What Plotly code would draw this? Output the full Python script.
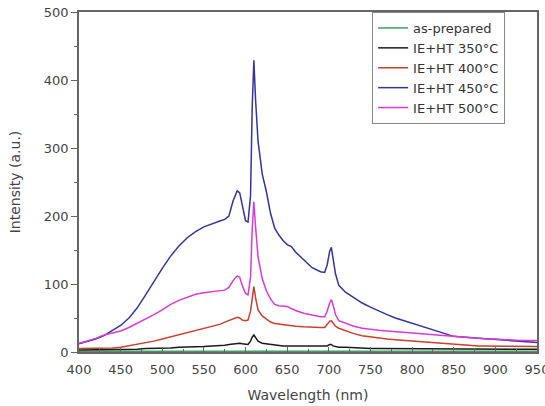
import plotly.graph_objects as go

wavelength = [400, 410, 420, 430, 440, 450, 460, 470, 480, 490,
              500, 510, 520, 530, 540, 550, 560, 570, 575, 580,
              585, 590, 593, 596, 600, 603, 606, 608, 610, 612,
              615, 620, 625, 630, 635, 640, 645, 650, 655, 660,
              670, 680, 690, 695, 698, 701, 703, 705, 708, 712,
              720, 730, 740, 750, 760, 770, 780, 790, 800, 810,
              820, 830, 840, 850, 860, 870, 880, 890, 900, 910,
              920, 930, 940, 950]

as_prepared = [1, 1, 1, 1, 1, 1, 1, 1, 1, 1,
               1, 1, 1, 1, 1, 1, 1, 1, 1, 1,
               1, 1, 1, 1, 1, 1, 1, 1, 2, 1,
               1, 1, 1, 1, 1, 1, 1, 1, 1, 1,
               1, 1, 1, 1, 1, 1, 1, 1, 1, 1,
               1, 1, 1, 1, 1, 1, 1, 1, 1, 1,
               1, 1, 1, 1, 1, 1, 1, 1, 1, 1,
               1, 1, 1, 1]

ht350 = [3, 3, 3, 3, 3, 3, 4, 4, 5, 5,
         6, 6, 7, 7, 8, 8, 9, 9, 10, 11,
         12, 13, 13, 12, 11, 11, 16, 22, 25, 21,
         16, 13, 12, 11, 10, 10, 9, 9, 9, 8,
         8, 8, 8, 8, 9, 11, 11, 9, 8, 7,
         7, 6, 6, 5, 5, 5, 5, 5, 5, 4,
         4, 4, 4, 4, 4, 4, 4, 4, 4, 4,
         4, 4, 4, 4]

ht400 = [5, 5, 5, 5, 6, 7, 9, 11, 13, 16,
         19, 22, 25, 29, 32, 35, 38, 41, 44, 46,
         49, 51, 50, 47, 46, 47, 60, 80, 96, 80,
         62, 53, 48, 44, 42, 41, 40, 40, 39, 38,
         37, 36, 36, 36, 40, 45, 46, 42, 38, 35,
         31, 27, 24, 22, 20, 19, 18, 17, 16, 15,
         14, 13, 12, 11, 10, 10, 9, 9, 9, 8,
         8, 8, 8, 8]

ht450 = [12, 15, 19, 24, 31, 39, 50, 65, 84, 104,
         123, 141, 156, 168, 177, 184, 189, 193, 195, 200,
         222, 237, 234, 215, 193, 191, 230, 360, 429, 372,
         310, 262, 236, 204, 182, 172, 164, 158, 155, 147,
         135, 124, 118, 117, 128, 148, 154, 140, 115, 98,
         88, 80, 72, 66, 60, 55, 50, 46, 43, 39,
         35, 31, 27, 23, 22, 21, 20, 19, 18, 17,
         16, 15, 15, 14]

ht500 = [13, 16, 20, 25, 28, 31, 36, 42, 48, 55,
         62, 70, 76, 81, 85, 87, 89, 90, 91, 95,
         105, 112, 110, 98, 86, 84, 110, 180, 221, 185,
         140, 108, 90, 78, 70, 68, 67, 67, 64, 61,
         57, 54, 52, 52, 60, 72, 77, 70, 55, 46,
         42, 38, 35, 33, 32, 31, 30, 29, 28, 27,
         25, 24, 23, 22, 21, 20, 20, 19, 19, 18,
         18, 17, 17, 17]

x_ticks = [400, 450, 500, 550, 600, 650, 700, 750, 800, 850, 900, 950]
y_ticks = [0, 100, 200, 300, 400, 500]

series = [
    ("as-prepared", as_prepared, "#3f9e62"),
    ("IE+HT 350°C", ht350, "#1a1a1a"),
    ("IE+HT 400°C", ht400, "#c8402e"),
    ("IE+HT 450°C", ht450, "#34349c"),
    ("IE+HT 500°C", ht500, "#d83ad8"),
]

fig = go.Figure()
for name, vals, color in series:
    assert len(vals) == len(wavelength), name
    fig.add_trace(go.Scatter(x=wavelength, y=vals, mode="lines", name=name,
                             line=dict(color=color, width=1.5)))

axis_color = "#666666"
font_family = "DejaVu Sans, Arial, sans-serif"

fig.update_layout(
    width=545, height=406,
    margin=dict(l=79, r=8, t=12, b=54, autoexpand=False),
    paper_bgcolor="white", plot_bgcolor="white",
    font=dict(family=font_family, color="#444444", size=12),
    showlegend=True,
    legend=dict(x=0.64, y=1.0, xanchor="left", yanchor="top",
                bordercolor="#888888", borderwidth=1, bgcolor="white",
                font=dict(size=13, color="#333333"),
                itemwidth=30, tracegroupgap=0),
    xaxis=dict(range=[400, 950], tickmode="array", tickvals=x_ticks,
               ticktext=[str(v) for v in x_ticks],
               ticklabeloverflow="allow", automargin=False,
               showgrid=False, zeroline=False,
               showline=True, linecolor=axis_color, linewidth=1.5, mirror=True,
               ticks="inside", ticklen=5, tickcolor=axis_color, tickwidth=1,
               ticklabelstandoff=5,
               minor=dict(ticks="inside", ticklen=3, dtick=25, tick0=400, tickcolor=axis_color),
               title=dict(text="Wavelength (nm)", font=dict(size=14, color="#444444"), standoff=14),
               tickfont=dict(size=13)),
    yaxis=dict(range=[0, 500], tickmode="array", tickvals=y_ticks,
               automargin=False,
               showgrid=False, zeroline=False,
               showline=True, linecolor=axis_color, linewidth=1.5, mirror=True,
               ticks="outside", ticklen=6, tickcolor=axis_color, tickwidth=1,
               minor=dict(ticks="outside", ticklen=3, dtick=50, tick0=0, tickcolor=axis_color),
               title=dict(text="Intensity (a.u.)", font=dict(size=14, color="#444444"), standoff=20),
               tickfont=dict(size=13)),
)

fig.write_html("out.html")
